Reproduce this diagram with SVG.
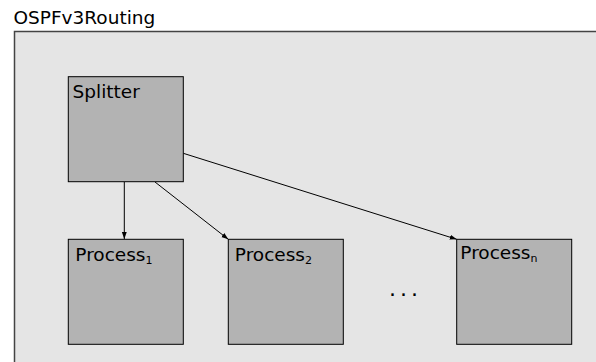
<svg xmlns="http://www.w3.org/2000/svg" width="596" height="362" viewBox="0 0 596 362">
<defs>
<style>
text{font-family:"DejaVu Sans","Liberation Sans",sans-serif;fill:#000}
.lbl{font-size:18.5px}
.sub{font-size:11px}
.box{fill:#b3b3b3;stroke:#000;stroke-width:1}
.edge{stroke:#000;stroke-width:1;fill:none;marker-end:url(#ah)}
</style>
<marker id="ah" viewBox="0 0 10 10" refX="10" refY="5" markerWidth="7" markerHeight="7" orient="auto" markerUnits="userSpaceOnUse">
<path d="M0,1.5 L10,5 L0,8.5 Z" fill="#000"/>
</marker>
</defs>
<rect width="596" height="362" fill="#fff"/>
<text class="lbl" x="13.5" y="24">OSPFv3Routing</text>
<g id="OSPFv3Routing">
<rect x="14.5" y="31.5" width="600" height="360" fill="#e5e5e5" stroke="#444" stroke-width="1.5"/>
</g>
<g id="connectors">
<line class="edge" x1="124.3" y1="182" x2="124.3" y2="239"/>
<line class="edge" x1="155" y1="182" x2="228.3" y2="239.3"/>
<line class="edge" x1="183.3" y1="153.3" x2="456.7" y2="239.3"/>
</g>
<g id="splitter">
<rect class="box" x="68.3" y="76.7" width="115" height="105" stroke="#444"/>
<text class="lbl" x="72.5" y="97.7">Splitter</text>
</g>
<g id="process1">
<rect class="box" x="68.3" y="239.3" width="115" height="105"/>
<text class="lbl" x="75.3" y="261">Process<tspan class="sub" dy="3">1</tspan></text>
</g>
<g id="process2">
<rect class="box" x="228.3" y="239.3" width="115" height="105"/>
<text class="lbl" x="234.8" y="261">Process<tspan class="sub" dy="3">2</tspan></text>
</g>
<g id="processn">
<rect class="box" x="456.7" y="239.3" width="115" height="105"/>
<text class="lbl" x="460.3" y="259">Process<tspan class="sub" dy="3">n</tspan></text>
</g>
<text x="389" y="296" font-size="22" letter-spacing="4">...</text>
</svg>
